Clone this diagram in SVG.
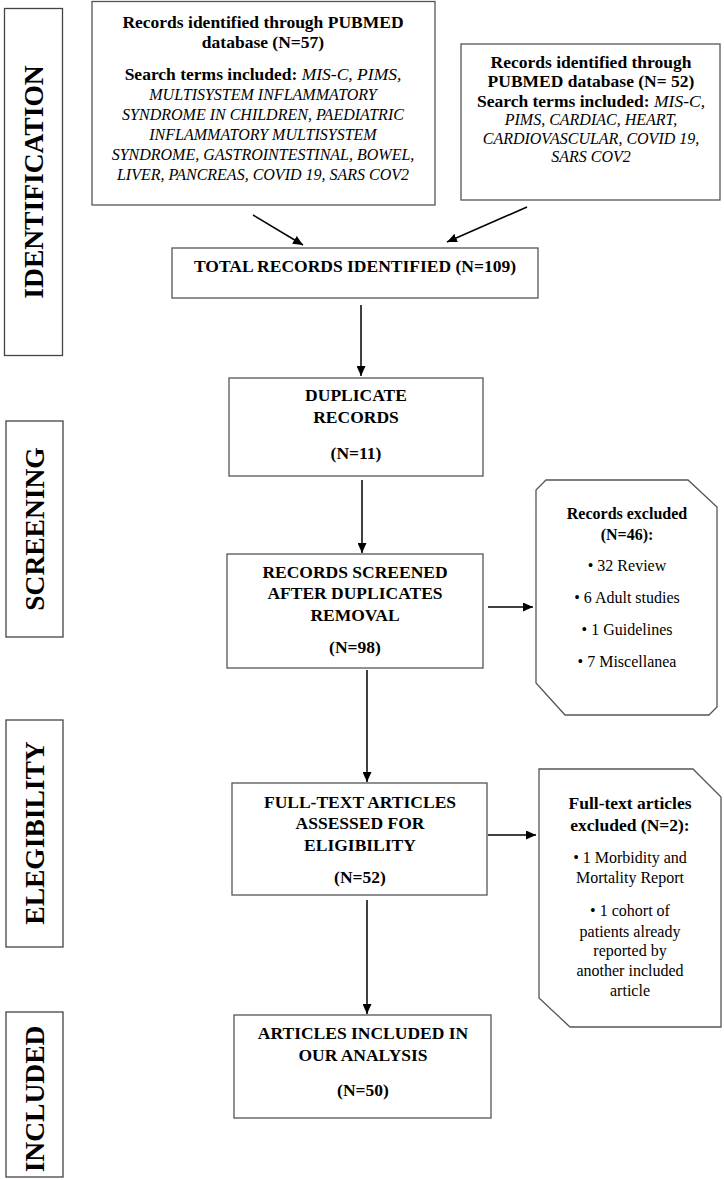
<svg xmlns="http://www.w3.org/2000/svg" width="724" height="1180" viewBox="0 0 724 1180">
<defs>
<marker id="ah" markerUnits="userSpaceOnUse" markerWidth="11" markerHeight="9" refX="10" refY="4.5" orient="auto">
<path d="M0,0 L10,4.5 L0,9 z" fill="#000"/>
</marker>
<style>
.box{fill:#fff;stroke:#555;stroke-width:1.3}
.side{fill:#fff;stroke:#444;stroke-width:1.3}
.t{font-family:"Liberation Serif","Times New Roman",serif;fill:#000;text-anchor:middle}
.b{font-weight:bold;font-size:17.5px}
.bs{font-weight:bold;font-size:16px}
.r{font-size:16px}
.i{font-style:italic;font-weight:normal}
.lab{font-family:"Liberation Serif","Times New Roman",serif;font-weight:bold;font-size:27.5px;fill:#000;text-anchor:middle}
.c{fill:none;stroke:#000;stroke-width:1.5;marker-end:url(#ah)}
</style>
</defs>
<rect width="724" height="1180" fill="#fff"/>

<g id="stage-identification">
<rect class="side" x="4.5" y="8.5" width="58" height="347"/>
<text class="lab" transform="translate(43,182) rotate(-90)">IDENTIFICATION</text>
</g>
<g id="stage-screening">
<rect class="side" x="6" y="421" width="57" height="216"/>
<text class="lab" transform="translate(44,529) rotate(-90)">SCREENING</text>
</g>
<g id="stage-elegibility">
<rect class="side" x="6" y="720" width="57" height="227"/>
<text class="lab" transform="translate(44,833) rotate(-90)">ELEGIBILITY</text>
</g>
<g id="stage-included">
<rect class="side" x="6" y="1012" width="57" height="165"/>
<text class="lab" transform="translate(44,1099) rotate(-90)">INCLUDED</text>
</g>

<g id="pubmed-57">
<rect class="box" x="92" y="1.5" width="343" height="203.5"/>
<text class="t b" x="263" y="28">Records identified through PUBMED</text>
<text class="t b" x="263" y="48">database (N=57)</text>
<text class="t b" x="263" y="80" font-size="16.5">Search terms included: <tspan class="i">MIS-C, PIMS,</tspan></text>
<text class="t r i" x="263" y="100">MULTISYSTEM INFLAMMATORY</text>
<text class="t r i" x="263" y="120">SYNDROME IN CHILDREN, PAEDIATRIC</text>
<text class="t r i" x="263" y="140">INFLAMMATORY MULTISYSTEM</text>
<text class="t r i" x="263" y="160">SYNDROME, GASTROINTESTINAL, BOWEL,</text>
<text class="t r i" x="263" y="180">LIVER, PANCREAS, COVID 19, SARS COV2</text>
</g>

<g id="pubmed-52">
<rect class="box" x="461" y="44" width="259" height="156"/>
<text class="t b" x="591" y="68">Records identified through</text>
<text class="t b" x="591" y="87">PUBMED database (N= 52)</text>
<text class="t b" x="591" y="107" font-size="16.5">Search terms included: <tspan class="i">MIS-C,</tspan></text>
<text class="t r i" x="591" y="125">PIMS, CARDIAC, HEART,</text>
<text class="t r i" x="591" y="144">CARDIOVASCULAR, COVID 19,</text>
<text class="t r i" x="591" y="162">SARS COV2</text>
</g>

<g id="total">
<rect class="box" x="172" y="248" width="366" height="50"/>
<text class="t b" x="355" y="272">TOTAL RECORDS IDENTIFIED (N=109)</text>
</g>

<g id="duplicates">
<rect class="box" x="229" y="378" width="254" height="98"/>
<text class="t b" x="356" y="401">DUPLICATE</text>
<text class="t b" x="356" y="423">RECORDS</text>
<text class="t b" x="356" y="459">(N=11)</text>
</g>

<g id="screened">
<rect class="box" x="227" y="554" width="256" height="114"/>
<text class="t b" x="355" y="578">RECORDS SCREENED</text>
<text class="t b" x="355" y="599">AFTER DUPLICATES</text>
<text class="t b" x="355" y="621">REMOVAL</text>
<text class="t b" x="355" y="653">(N=98)</text>
</g>

<g id="excluded-46">
<path class="box" d="M546,480 L688,480 L717,507 L717,707 L709,715 L565,715 L536,683 L536,490 Z"/>
<text class="t bs" x="627" y="519">Records excluded</text>
<text class="t bs" x="627" y="540">(N=46):</text>
<text class="t r" x="627" y="571">• 32 Review</text>
<text class="t r" x="627" y="603">• 6 Adult studies</text>
<text class="t r" x="627" y="635">• 1 Guidelines</text>
<text class="t r" x="627" y="667">• 7 Miscellanea</text>
</g>

<g id="fulltext">
<rect class="box" x="232" y="783" width="255" height="112"/>
<text class="t b" x="360" y="808">FULL-TEXT ARTICLES</text>
<text class="t b" x="360" y="829">ASSESSED FOR</text>
<text class="t b" x="360" y="851">ELIGIBILITY</text>
<text class="t b" x="360" y="883">(N=52)</text>
</g>

<g id="excluded-2">
<path class="box" d="M539,769 L693,769 L721,797 L721,1027 L570,1027 L539,998 Z"/>
<text class="t b" x="630" y="809" font-size="17px">Full-text articles</text>
<text class="t b" x="630" y="831" font-size="17px">excluded (N=2):</text>
<text class="t r" x="630" y="863">• 1 Morbidity and</text>
<text class="t r" x="630" y="883">Mortality Report</text>
<text class="t r" x="630" y="916">• 1 cohort of</text>
<text class="t r" x="630" y="937">patients already</text>
<text class="t r" x="630" y="956">reported by</text>
<text class="t r" x="630" y="976">another included</text>
<text class="t r" x="630" y="996">article</text>
</g>

<g id="included">
<rect class="box" x="234" y="1015" width="257" height="103"/>
<text class="t b" x="363" y="1039">ARTICLES INCLUDED IN</text>
<text class="t b" x="363" y="1061">OUR ANALYSIS</text>
<text class="t b" x="363" y="1096">(N=50)</text>
</g>

<g id="connectors">
<line class="c" x1="253" y1="215" x2="303" y2="245"/>
<line class="c" x1="527" y1="207" x2="447" y2="242" stroke-width="1"/>
<line class="c" x1="361" y1="305" x2="361" y2="376"/>
<line class="c" x1="362" y1="480" x2="362" y2="553"/>
<line class="c" x1="488" y1="607" x2="533" y2="607"/>
<line class="c" x1="367" y1="670" x2="367" y2="782"/>
<line class="c" x1="488" y1="835" x2="536" y2="835"/>
<line class="c" x1="367" y1="900" x2="367" y2="1014"/>
</g>
</svg>
